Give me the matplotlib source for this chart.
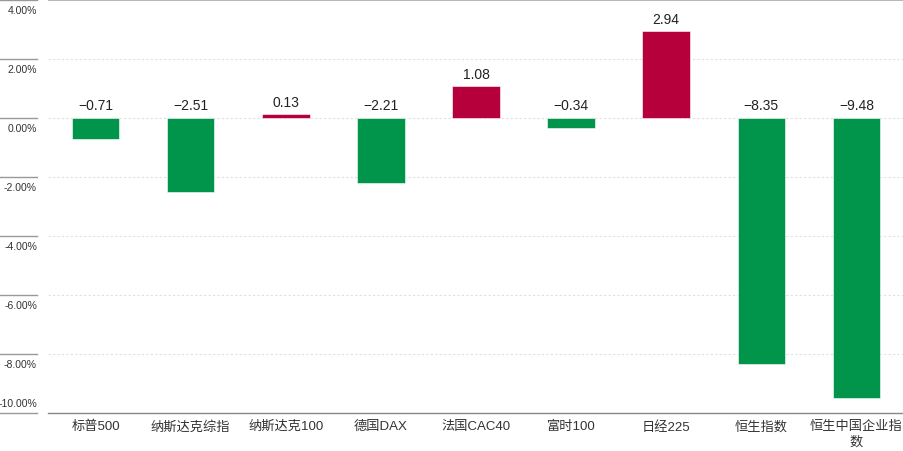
import matplotlib
matplotlib.use("Agg")
import matplotlib.pyplot as plt
import numpy as np

plt.rcParams["font.family"] = ["Liberation Sans", "Noto Sans CJK SC", "DejaVu Sans"]

categories = ["标普500", "纳斯达克综指", "纳斯达克100", "德国DAX", "法国CAC40",
              "富时100", "日经225", "恒生指数", "恒生中国企业指\n数"]
values = [-0.71, -2.51, 0.13, -2.21, 1.08, -0.34, 2.94, -8.35, -9.48]
y_ticks = [4, 2, 0, -2, -4, -6, -8, -10]

GREEN = "#00954a"
RED = "#b5003c"

W, H = 904, 452
fig = plt.figure(figsize=(W / 100, H / 100), dpi=100)
ax = fig.add_axes([48 / W, 1 - 414 / H, 1 - 48 / W, 413 / H])

x = np.arange(len(categories))
colors = [RED if v > 0 else GREEN for v in values]
ax.bar(x, values, width=0.5, color=colors, edgecolor="white", linewidth=0.4, zorder=3)

ax.set_xlim(-0.5, len(categories) - 0.5)
ax.set_ylim(-10, 4)

# dotted grid inside the plot
for t in y_ticks[1:-1]:
    ax.axhline(t, color="#e0e0e0", linewidth=0.8, linestyle=(0, (2, 2)), zorder=1)
ax.axhline(4, color="#aaaaaa", linewidth=1.2, zorder=2)

for s in ["top", "right", "left"]:
    ax.spines[s].set_visible(False)
ax.spines["bottom"].set_color("#888888")
ax.spines["bottom"].set_linewidth(1.0)
ax.spines["bottom"].set_position(("data", -10))

ax.set_yticks([])
ax.set_xticks(x)
ax.set_xticklabels(categories, fontsize=9.5, color="#333333", linespacing=1.3)
ax.tick_params(axis="x", length=0, pad=5)

# y labels with short lines to the left of the plot
ytrans = ax.get_yaxis_transform()
for t in y_ticks:
    ax.plot([-48 / 856, -11 / 856], [t, t], transform=ytrans, color="#999999",
            linewidth=1.0, clip_on=False)
    lab = "{:.2f}%".format(t)
    dy = 7 if t == -10 else -7.5
    ax.annotate(lab, xy=(-11 / 856, t), xycoords=ytrans, xytext=(0, dy),
                textcoords="offset points", ha="right", va="center",
                fontsize=7.5, color="#333333")

# value labels
for xi, v in zip(x, values):
    base = max(v, 0)
    ax.annotate("{:.2f}".format(v).replace("-", "−"), xy=(xi, base),
                xytext=(0, 4), textcoords="offset points",
                ha="center", va="bottom", fontsize=10, color="#222222")

fig.savefig("out.png", dpi=100)
